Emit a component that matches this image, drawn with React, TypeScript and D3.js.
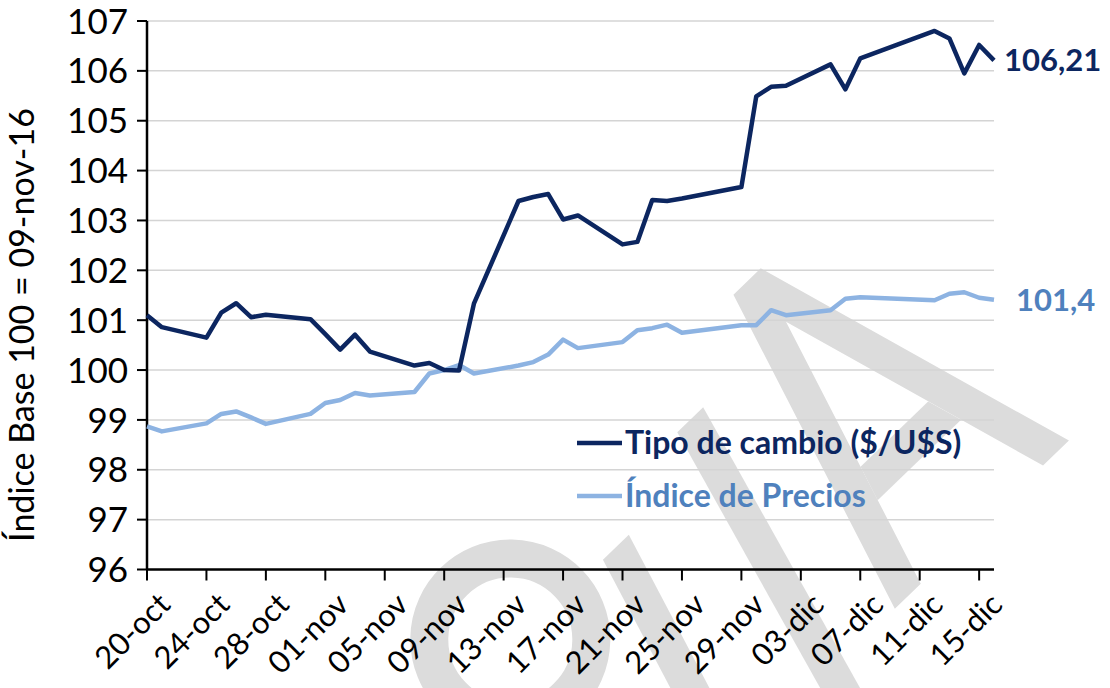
import React, { useEffect, useRef } from 'react';
import * as d3 from 'd3';

const dates = [
  '2016-10-20', '2016-10-21', '2016-10-24', '2016-10-25', '2016-10-26', '2016-10-27', '2016-10-28',
  '2016-10-31', '2016-11-01', '2016-11-02', '2016-11-03', '2016-11-04', '2016-11-07', '2016-11-08',
  '2016-11-09', '2016-11-10', '2016-11-11', '2016-11-14', '2016-11-15', '2016-11-16', '2016-11-17',
  '2016-11-18', '2016-11-21', '2016-11-22', '2016-11-23', '2016-11-24', '2016-11-25', '2016-11-29',
  '2016-11-30', '2016-12-01', '2016-12-02', '2016-12-05', '2016-12-06', '2016-12-07', '2016-12-12',
  '2016-12-13', '2016-12-14', '2016-12-15', '2016-12-16',
];

const fxValues = [
  101.10, 100.86, 100.65, 101.15, 101.34, 101.06, 101.11,
  101.02, 100.72, 100.41, 100.71, 100.37, 100.09, 100.14,
  100.00, 99.99, 101.33, 103.39, 103.47, 103.53, 103.02,
  103.10, 102.52, 102.57, 103.41, 103.39, 103.44, 103.67,
  105.49, 105.68, 105.70, 106.13, 105.63, 106.25, 106.80,
  106.65, 105.95, 106.52, 106.21,
];

const priceValues = [
  98.87, 98.77, 98.93, 99.12, 99.17, 99.05, 98.92,
  99.12, 99.34, 99.40, 99.54, 99.49, 99.56, 99.93,
  100.00, 100.10, 99.93, 100.09, 100.16, 100.31, 100.61,
  100.44, 100.56, 100.80, 100.84, 100.91, 100.75, 100.90,
  100.90, 101.20, 101.10, 101.20, 101.43, 101.46, 101.40,
  101.53, 101.56, 101.45, 101.41,
];

const tickDates = [
  '2016-10-20', '2016-10-24', '2016-10-28', '2016-11-01', '2016-11-05', '2016-11-09', '2016-11-13',
  '2016-11-17', '2016-11-21', '2016-11-25', '2016-11-29', '2016-12-03', '2016-12-07', '2016-12-11',
  '2016-12-15',
];
const tickLabels = [
  '20-oct', '24-oct', '28-oct', '01-nov', '05-nov', '09-nov', '13-nov',
  '17-nov', '21-nov', '25-nov', '29-nov', '03-dic', '07-dic', '11-dic',
  '15-dic',
];
const yTicks = [96, 97, 98, 99, 100, 101, 102, 103, 104, 105, 106, 107];
const seriesNames = ['Tipo de cambio ($/U$S)', 'Índice de Precios'];
const endLabels = ['106,21', '101,4'];
const axisTitle = 'Índice Base 100 = 09-nov-16';

// decorative grey watermark, drawn in its own rotated frame
const watermarkPolys = [
  'M -14 0 L 24 0 L 126 338 L 90 338 L 5 56 L -80 338 L -116 338 Z',
  'M -42 212 L 52 212 L 63 248 L -53 248 Z',
  'M -150 60 L -114 60 L -217 450 L -253 450 Z',
  'M -292 100 L -256 100 L -358 450 L -394 450 Z',
];
const watermarkRing = { cx: -414, cy: 93, r: 81, w: 38 };

const DARK = '#0c2660';
const LIGHT = '#8db3e2';
const LIGHT_TEXT = '#4f81bd';
const FONT = 'Lato, "Open Sans", sans-serif';

export default function App() {
  const ref = useRef<SVGSVGElement>(null);

  useEffect(() => {
    const svg = d3.select(ref.current);
    svg.selectAll('*').remove();
    const parse = d3.utcParse('%Y-%m-%d');
    const x = d3.scaleUtc()
      .domain([parse('2016-10-20') as Date, parse('2016-12-16') as Date])
      .range([147, 994]);
    const y = d3.scaleLinear().domain([96, 107]).range([569.5, 21]);

    // watermark
    const wm = svg.append('g').attr('transform', 'translate(743.5,285) rotate(-44)');
    wm.selectAll('path').data(watermarkPolys).join('path')
      .attr('d', d => d).attr('fill', '#dcdcdc');
    wm.append('circle').attr('cx', watermarkRing.cx).attr('cy', watermarkRing.cy)
      .attr('r', watermarkRing.r).attr('fill', 'none')
      .attr('stroke', '#dcdcdc').attr('stroke-width', watermarkRing.w);

    // gridlines
    svg.append('g').selectAll('line').data(yTicks.filter(t => t !== 96)).join('line')
      .attr('x1', 147).attr('x2', 994)
      .attr('y1', d => y(d)).attr('y2', d => y(d))
      .attr('stroke', '#d4d4d4').attr('stroke-width', 1.5);

    // y axis
    const ya = svg.append('g');
    ya.append('line').attr('x1', 147).attr('x2', 147).attr('y1', y(107)).attr('y2', y(96))
      .attr('stroke', '#000').attr('stroke-width', 2.5);
    ya.selectAll('line.t').data(yTicks).join('line').attr('class', 't')
      .attr('x1', 137).attr('x2', 147).attr('y1', d => y(d)).attr('y2', d => y(d))
      .attr('stroke', '#000').attr('stroke-width', 2);
    ya.selectAll('text').data(yTicks).join('text')
      .attr('x', 128).attr('y', d => y(d)).attr('dy', '0.36em')
      .attr('text-anchor', 'end').attr('font-family', FONT).attr('font-size', 35).attr('fill', '#000')
      .text(d => String(d));

    // x axis
    const xa = svg.append('g');
    xa.append('line').attr('x1', 146).attr('x2', 994).attr('y1', y(96)).attr('y2', y(96))
      .attr('stroke', '#000').attr('stroke-width', 2.5);
    xa.selectAll('line.t').data(tickDates).join('line').attr('class', 't')
      .attr('x1', d => x(parse(d) as Date)).attr('x2', d => x(parse(d) as Date))
      .attr('y1', y(96)).attr('y2', y(96) + 11)
      .attr('stroke', '#000').attr('stroke-width', 2);
    xa.selectAll('text').data(tickDates).join('text')
      .attr('transform', d => `translate(${x(parse(d) as Date) + 25},${y(96) + 37}) rotate(-45)`)
      .attr('text-anchor', 'end')
      .attr('font-family', FONT).attr('font-size', 31).attr('fill', '#000')
      .text((d, i) => tickLabels[i]);

    // axis title
    svg.append('text')
      .attr('transform', 'translate(22,325) rotate(-90)')
      .attr('text-anchor', 'middle').attr('dy', '0.35em')
      .attr('font-family', FONT).attr('font-size', 34).attr('fill', '#000')
      .text(axisTitle);

    const line = d3.line<number>()
      .x((d, i) => x(parse(dates[i]) as Date))
      .y(d => y(d));

    svg.append('path').attr('d', line(priceValues) as string)
      .attr('fill', 'none').attr('stroke', LIGHT).attr('stroke-width', 4.5)
      .attr('stroke-linejoin', 'round');
    svg.append('path').attr('d', line(fxValues) as string)
      .attr('fill', 'none').attr('stroke', DARK).attr('stroke-width', 4.5)
      .attr('stroke-linejoin', 'round');

    // end labels
    const lastDate = parse(dates[dates.length - 1]) as Date;
    svg.append('text').attr('x', x(lastDate) + 10).attr('y', y(fxValues[fxValues.length - 1]))
      .attr('dy', '0.35em').attr('font-family', FONT).attr('font-weight', 'bold')
      .attr('font-size', 31).attr('fill', DARK).text(endLabels[0]);
    svg.append('text').attr('x', x(lastDate) + 22).attr('y', y(priceValues[priceValues.length - 1]))
      .attr('dy', '0.35em').attr('font-family', FONT).attr('font-weight', 'bold')
      .attr('font-size', 31).attr('fill', LIGHT_TEXT).text(endLabels[1]);

    // legend
    const leg = svg.append('g');
    const legColors = [DARK, LIGHT];
    const legTextColors = [DARK, LIGHT_TEXT];
    const legY = [443, 496];
    seriesNames.forEach((name, i) => {
      leg.append('line').attr('x1', 577).attr('x2', 622).attr('y1', legY[i]).attr('y2', legY[i])
        .attr('stroke', legColors[i]).attr('stroke-width', 4.5);
      leg.append('text').attr('x', 625).attr('y', legY[i]).attr('dy', '0.35em')
        .attr('font-family', FONT).attr('font-weight', 'bold').attr('font-size', 32)
        .attr('fill', legTextColors[i]).text(name);
    });
  }, []);

  return (
    <svg ref={ref} width={1110} height={688}
      style={{ position: 'absolute', left: 0, top: 0, background: '#fff' }} />
  );
}
